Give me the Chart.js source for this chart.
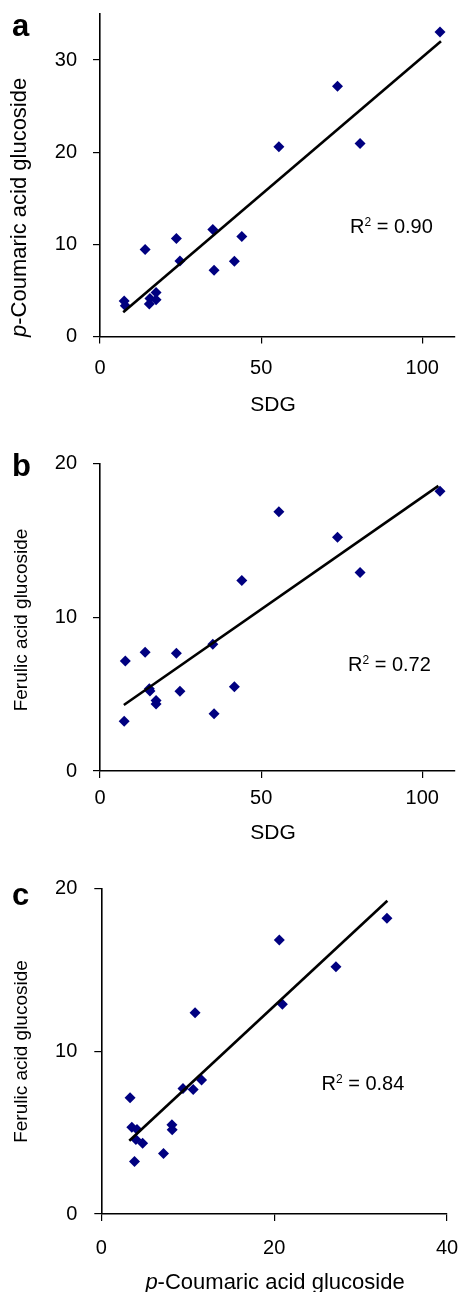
<!DOCTYPE html>
<html>
<head>
<meta charset="utf-8">
<script src="https://cdn.jsdelivr.net/npm/chart.js@4.4.1/dist/chart.umd.min.js"></script>
<style>
  html, body { margin: 0; padding: 0; background: #fff; }
  #wrap { position: relative; width: 460px; height: 1292px; overflow: hidden; }
  canvas { position: absolute; left: 0; }
</style>
</head>
<body>
<div id="wrap">
  <canvas id="cA" width="460" height="425" style="top:0px"></canvas>
  <canvas id="cB" width="460" height="425" style="top:425px"></canvas>
  <canvas id="cC" width="460" height="442" style="top:850px"></canvas>
</div>
<script>
// ---- data (17 samples) ----
const sdg       = [105.5, 73.7, 55.5, 80.7, 44.0, 35.0, 23.7, 14.0, 41.7, 24.8, 35.4, 7.85, 7.5, 15.3, 15.5, 17.4, 17.4];
const pCoumaric = [33.05, 27.15, 20.6, 20.95, 10.85, 11.6, 10.63, 9.45, 8.17, 8.2, 7.2, 3.33, 3.84, 3.53, 4.13, 4.0, 4.78];
const ferulic   = [18.18, 15.2, 16.85, 12.9, 12.38, 8.24, 7.65, 7.72, 5.48, 5.18, 3.72, 7.15, 3.23, 5.34, 5.2, 4.58, 4.35];

// trendline end points
const trendAx = [7.2, 105.8],  trendAy = [2.63, 32.04];
const trendBx = [7.4, 105.0],  trendBy = [4.29, 18.53];
const trendCx = [3.24, 33.1],  trendCy = [4.5, 19.26];

// tick values
const xTicksAB = [0, 50, 100];
const yTicksA  = [0, 10, 20, 30];
const yTicksBC = [0, 10, 20];
const xTicksC  = [0, 20, 40];

const r2A = ' = 0.90', r2B = ' = 0.72', r2C = ' = 0.84';

Chart.defaults.font.family = '"Liberation Sans", Arial, Helvetica, sans-serif';
Chart.defaults.color = '#000';

const FONT = '"Liberation Sans", Arial, Helvetica, sans-serif';

function drawRich(ctx, segs, size) {
  let x = 0;
  for (const s of segs) {
    ctx.font = (s.italic ? 'italic ' : '') + size + 'px ' + FONT;
    ctx.fillText(s.t, x, 0);
    x += ctx.measureText(s.t).width;
  }
  return x;
}
function richWidth(ctx, segs, size) {
  let w = 0;
  for (const s of segs) {
    ctx.font = (s.italic ? 'italic ' : '') + size + 'px ' + FONT;
    w += ctx.measureText(s.t).width;
  }
  return w;
}

const textPlugin = {
  id: 'panelText',
  afterDraw(chart, args, o) {
    const ctx = chart.ctx;
    ctx.save();
    ctx.fillStyle = '#000';
    ctx.textAlign = 'left';
    ctx.textBaseline = 'alphabetic';
    // panel letter
    ctx.font = 'bold 31px ' + FONT;
    ctx.fillText(o.letter, o.letterX, o.letterY);
    // R squared
    ctx.font = '20px ' + FONT;
    ctx.fillText('R', o.r2X, o.r2Y);
    let w = ctx.measureText('R').width;
    ctx.font = '12px ' + FONT;
    ctx.fillText('2', o.r2X + w, o.r2Y - 7);
    w += ctx.measureText('2').width;
    ctx.font = '20px ' + FONT;
    ctx.fillText(o.r2Text, o.r2X + w, o.r2Y);
    // x title (centered)
    const xw = richWidth(ctx, o.xTitle, o.xSize);
    ctx.save();
    ctx.translate(o.xTitleX - xw / 2, o.xTitleY);
    drawRich(ctx, o.xTitle, o.xSize);
    ctx.restore();
    // y title (rotated)
    const yw = richWidth(ctx, o.yTitle, o.ySize);
    ctx.save();
    const startY = o.yAlign === 'start' ? o.yTitleY : o.yTitleY + yw / 2;
    ctx.translate(o.yTitleX, startY);
    ctx.rotate(-Math.PI / 2);
    drawRich(ctx, o.yTitle, o.ySize);
    ctx.restore();
    ctx.restore();
  }
};

function axis(min, max, ticks, pos, size, tickPad) {
  return {
    type: 'linear', position: pos, min: min, max: max,
    afterBuildTicks: s => { s.ticks = ticks.map(v => ({ value: v })); },
    afterFit: s => {
      if (pos === 'left') s.width = size; else s.height = size;
      s.paddingTop = 0; s.paddingBottom = 0; s.paddingLeft = 0; s.paddingRight = 0;
    },
    grid: { drawOnChartArea: false, drawTicks: true, tickLength: 7, color: '#000', lineWidth: 1.2 },
    border: { display: true, color: '#000', width: 1.6 },
    ticks: { font: { size: 20 }, color: '#000', padding: tickPad, autoSkip: false, maxRotation: 0 },
    title: { display: false }
  };
}

function makeChart(id, xs, ys, tx, ty, cfg) {
  const pts = xs.map((v, i) => ({ x: v, y: ys[i] }));
  const line = tx.map((v, i) => ({ x: v, y: ty[i] }));
  return new Chart(document.getElementById(id), {
    type: 'scatter',
    data: {
      datasets: [
        { type: 'line', data: line, borderColor: '#000', borderWidth: 2.6, pointRadius: 0, fill: false, clip: false, tension: 0 },
        { data: pts, pointStyle: 'rectRot', pointRadius: 5.5, pointHoverRadius: 5.5,
          backgroundColor: '#000080', borderColor: '#000080', borderWidth: 0, clip: false }
      ]
    },
    options: {
      responsive: false, animation: false, devicePixelRatio: 1,
      layout: { padding: { top: cfg.padTop, right: cfg.padRight, bottom: 0, left: 0 } },
      plugins: { legend: { display: false }, tooltip: { enabled: false }, panelText: cfg.text },
      scales: {
        x: axis(cfg.xMin, cfg.xMax, cfg.xTicks, 'bottom', cfg.xH, cfg.xPad),
        y: axis(cfg.yMin, cfg.yMax, cfg.yTicks, 'left', cfg.yW, cfg.yPad)
      }
    },
    plugins: [textPlugin]
  });
}

const pTitle = [{ t: 'p', italic: true }, { t: '-Coumaric acid glucoside' }];
const fTitle = [{ t: 'Ferulic acid glucoside' }];
const sTitle = [{ t: 'SDG' }];

makeChart('cA', sdg, pCoumaric, trendAx, trendAy, {
  padTop: 14, padRight: 0, xH: 88.5, yW: 100, xPad: 12.5, yPad: 16,
  xMin: 0, xMax: 110, xTicks: xTicksAB, yMin: 0, yMax: 35, yTicks: yTicksA,
  text: { letter: 'a', letterX: 12, letterY: 36, r2X: 350, r2Y: 233, r2Text: r2A,
          xTitle: sTitle, xSize: 21, xTitleX: 273, xTitleY: 410.5,
          yTitle: pTitle, ySize: 22, yTitleX: 26, yTitleY: 337, yAlign: 'start' }
});

makeChart('cB', sdg, ferulic, trendBx, trendBy, {
  padTop: 38.3, padRight: 2.1, xH: 79, yW: 100, xPad: 8.5, yPad: 16,
  xMin: 0, xMax: 110, xTicks: xTicksAB, yMin: 0, yMax: 20, yTicks: yTicksBC,
  text: { letter: 'b', letterX: 12, letterY: 51, r2X: 348, r2Y: 246, r2Text: r2B,
          xTitle: sTitle, xSize: 21, xTitleX: 273, xTitleY: 414,
          yTitle: fTitle, ySize: 19, yTitleX: 26.5, yTitleY: 195, yAlign: 'center' }
});

makeChart('cC', pCoumaric, ferulic, trendCx, trendCy, {
  padTop: 38.7, padRight: 13, xH: 78, yW: 101.3, xPad: 15.5, yPad: 17,
  xMin: 0, xMax: 40, xTicks: xTicksC, yMin: 0, yMax: 20, yTicks: yTicksBC,
  text: { letter: 'c', letterX: 12, letterY: 55, r2X: 321.5, r2Y: 240, r2Text: r2C,
          xTitle: pTitle, xSize: 22, xTitleX: 275, xTitleY: 439,
          yTitle: fTitle, ySize: 19, yTitleX: 26.5, yTitleY: 201.5, yAlign: 'center' }
});
</script>
</body>
</html>
